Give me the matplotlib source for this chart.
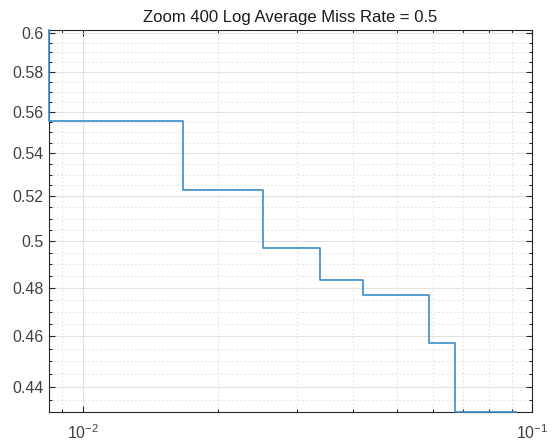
import matplotlib
matplotlib.use("Agg")
import matplotlib.pyplot as plt
from matplotlib.ticker import FixedLocator, FixedFormatter, NullFormatter

plt.rcParams['font.family'] = ['Liberation Sans', 'DejaVu Sans']
plt.rcParams['mathtext.default'] = 'regular'

# False positives per image (x) and miss rate (y) for the staircase curve
fppi = [0.0084, 0.0084, 0.01676, 0.02525, 0.03367, 0.04197, 0.0588, 0.0672, 0.0920]
miss_rate = [0.6017, 0.5557, 0.5230, 0.4968, 0.4834, 0.4769, 0.4571, 0.4304, 0.4304]

title = "Zoom 400 Log Average Miss Rate = 0.5"
x_major = [0.01, 0.1]
x_major_labels = ["$10^{-2}$", "$10^{-1}$"]
x_minor = [0.009] + [k * 0.01 for k in range(2, 10)]
y_major = [0.44, 0.46, 0.48, 0.50, 0.52, 0.54, 0.56, 0.58, 0.60]
y_major_labels = ["0.44", "0.46", "0.48", "0.5", "0.52", "0.54", "0.56", "0.58", "0.6"]
y_minor = [round(0.43 + 0.005 * i, 3) for i in range(0, 35)]
y_minor = [v for v in y_minor if v not in y_major]

fig = plt.figure(figsize=(5.52, 4.43), dpi=100)
ax = fig.add_axes([0.0879, 0.0700, 0.9643 - 0.0879, 0.9323 - 0.0700])

ax.set_xscale('log')
ax.set_yscale('log')
ax.step(fppi, miss_rate, where='post', color='#3d8bc8', lw=1.2, clip_on=False, zorder=5)

ax.set_xlim(0.0084, 0.1)
ax.set_ylim(0.4304, 0.6017)

ax.xaxis.set_major_locator(FixedLocator(x_major))
ax.xaxis.set_major_formatter(FixedFormatter(x_major_labels))
ax.xaxis.set_minor_locator(FixedLocator(x_minor))
ax.xaxis.set_minor_formatter(NullFormatter())
ax.yaxis.set_major_locator(FixedLocator(y_major))
ax.yaxis.set_major_formatter(FixedFormatter(y_major_labels))
ax.yaxis.set_minor_locator(FixedLocator(y_minor))
ax.yaxis.set_minor_formatter(NullFormatter())

ax.grid(True, which='major', color='#e2e2e2', lw=0.8, ls='-')
ax.grid(True, which='minor', color='#dcdcdc', lw=0.7, ls=(0, (1.5, 2.5)))
ax.set_axisbelow(True)

ax.tick_params(which='both', direction='in', top=True, right=True,
               colors='#262626', labelcolor='#404040', width=0.8)
ax.tick_params(which='major', length=4, labelsize=11.5)
ax.tick_params(which='minor', length=2.5)
ax.tick_params(axis='x', pad=8)
for s in ax.spines.values():
    s.set_color('#262626')
    s.set_linewidth(0.8)

ax.set_title(title, fontsize=12, color='#1a1a1a', pad=6)

fig.savefig("out.png", dpi=100)
